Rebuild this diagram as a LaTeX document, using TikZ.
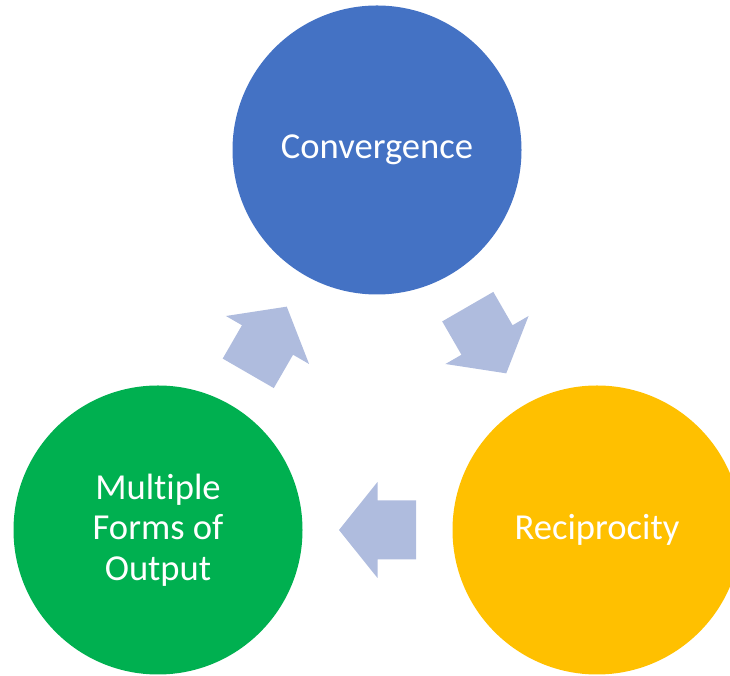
\documentclass[tikz,border=0pt]{standalone}
\usepackage{fontspec}
\setmainfont{Carlito}[Ligatures=NoCommon]
\usetikzlibrary{calc}
\definecolor{convblue}{HTML}{4472C4}
\definecolor{recipgold}{HTML}{FFC000}
\definecolor{outgreen}{HTML}{00B050}
\definecolor{arrowblue}{HTML}{AFBCDE}
\begin{document}
\begin{tikzpicture}[x=1pt,y=1pt]
        \tikzstyle{every node}=[circle,inner sep=0pt,minimum size=289pt,text=white,align=center,font=\fontsize{36.6}{40.5}\selectfont]
        \tikzstyle{bigarrow}=[fill=arrowblue]
        \useasboundingbox (0,0) rectangle (730,676);
        \node[fill=convblue] (conv) at (377,526) {Convergence};
        \node[fill=recipgold] (recip) at (597,146) {Reciprocity};
        \node[fill=outgreen] (multi) at (158,146) {Multiple\\Forms of\\Output};
        % block arrows halfway between the circles
        \fill[bigarrow,shift={($(conv)!0.5!(recip)$)},rotate=-60] (-38.5,-29.5) -- (0,-29.5) -- (0,-48) -- (38.5,0) -- (0,48) -- (0,29.5) -- (-38.5,29.5) -- cycle;
        \fill[bigarrow,shift={($(recip)!0.5!(multi)$)},rotate=180] (-38.5,-29.5) -- (0,-29.5) -- (0,-48) -- (38.5,0) -- (0,48) -- (0,29.5) -- (-38.5,29.5) -- cycle;
        \fill[bigarrow,shift={($(multi)!0.5!(conv)$)},rotate=60] (-38.5,-29.5) -- (0,-29.5) -- (0,-48) -- (38.5,0) -- (0,48) -- (0,29.5) -- (-38.5,29.5) -- cycle;
    \end{tikzpicture}
\end{document}
